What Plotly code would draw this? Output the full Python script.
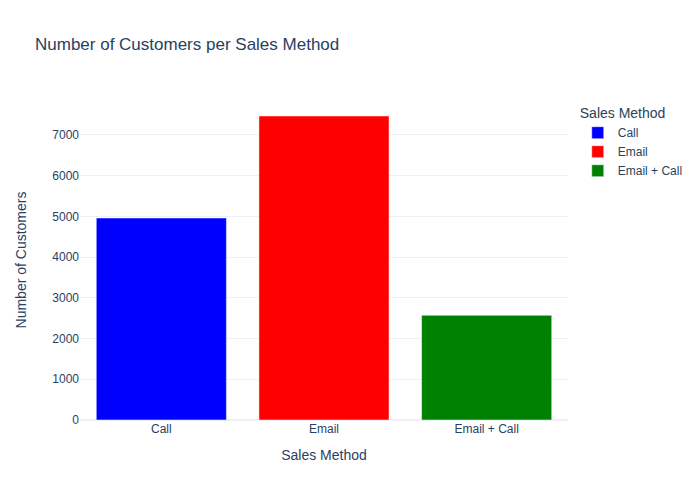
import plotly.express as px
import pandas as pd

methods = ["Call", "Email", "Email + Call"]
customers = [4962, 7466, 2572]
colors = {"Call": "blue", "Email": "red", "Email + Call": "green"}

df = pd.DataFrame({"Sales Method": methods, "Number of Customers": customers})

fig = px.bar(
    df,
    x="Sales Method",
    y="Number of Customers",
    color="Sales Method",
    color_discrete_map=colors,
    title="Number of Customers per Sales Method",
    template="plotly_white",
)
fig.update_layout(width=700, height=500, font=dict(family="Arial, Liberation Sans, sans-serif"))
fig.update_yaxes(automargin=True, title_standoff=22)
fig.write_html("out.html")
